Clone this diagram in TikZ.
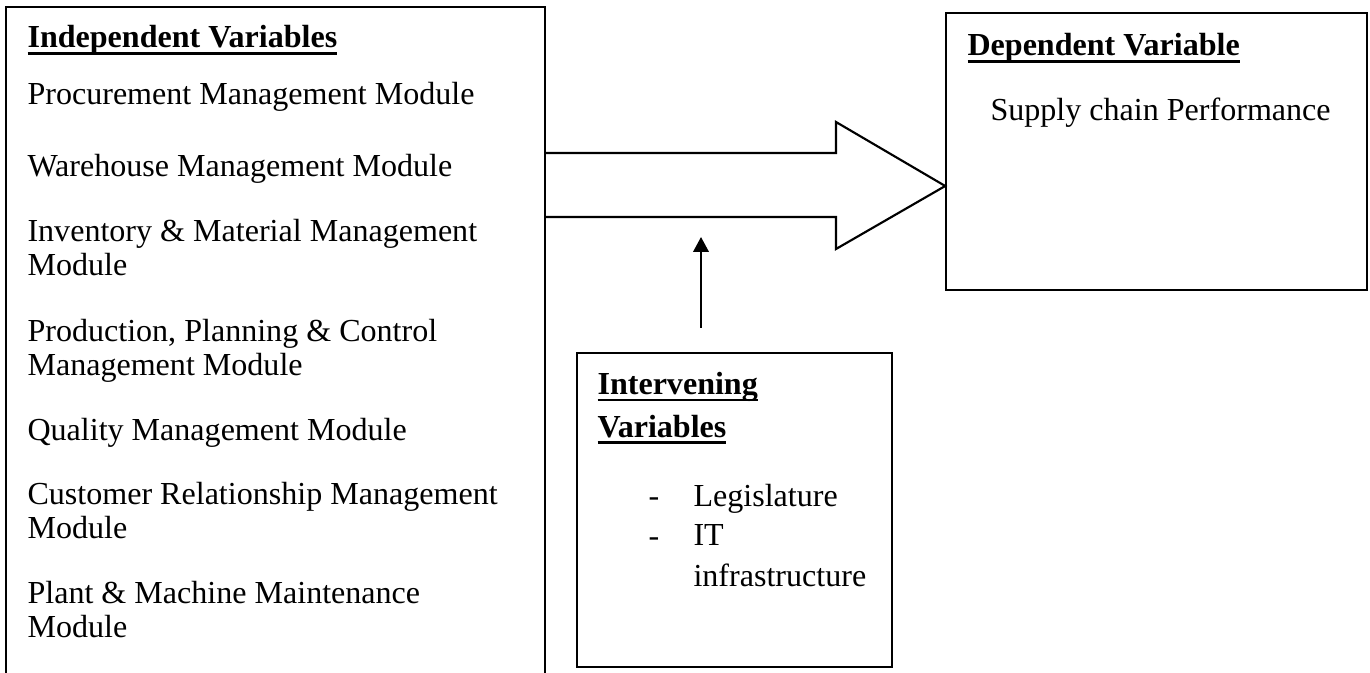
\documentclass[tikz,border=0pt]{standalone}
\usepackage{fontspec}
\setmainfont{Liberation Serif}
\usetikzlibrary{arrows.meta,positioning,calc,fit}
\newcommand{\headrule}[1]{\setbox0=\hbox{#1}\rlap{\rule[-2.6pt]{\wd0}{1pt}}\box0}

\begin{document}
\begin{tikzpicture}[
        x=0.3743pt, y=-0.3743pt,
        font=\fontsize{12}{12.7}\selectfont,
        frame/.style = {draw, line width=0.9pt, inner sep=0pt},
        thinframe/.style = {frame, line width=0.6pt},
        txt/.style   = {anchor=base west, inner sep=0pt, align=left},
        head/.style  = {txt, font=\fontsize{12}{16}\selectfont\bfseries},
        listtxt/.style = {txt, font=\fontsize{12}{15}\selectfont},
        flow/.style  = {line width=0.8pt, line join=miter},
        push/.style  = {-{Triangle[length=5.6pt, width=5.8pt]}, line width=0.8pt}
    ]
        \useasboundingbox (0,0) rectangle (1370,673);
        \clip (0,0) rectangle (1370,673);

        % ---- Independent variables (anchored at last baseline) ----
        \node[frame, fit={(6,7) (545,700)}] (indep) {};
        \node[head] (indeptitle) at (27,48) {\headrule{Independent Variables}};
        \node[txt] (proc)  at (27,105) {Procurement Management Module};
        \node[txt] (ware)  at (27,177) {Warehouse Management Module};
        \node[txt] (inv)   at (27,275) {Inventory \& Material Management\\Module};
        \node[txt] (prod)  at (27,375) {Production, Planning \& Control\\Management Module};
        \node[txt] (qual)  at (27,440) {Quality Management Module};
        \node[txt] (crm)   at (27,538) {Customer Relationship Management\\Module};
        \node[txt] (plant) at (27,637) {Plant \& Machine Maintenance\\Module};

        % ---- Dependent variable ----
        \node[thinframe, fit={(946,13) (1367,290)}] (dep) {};
        \node[head] (deptitle) at (967,56) {\headrule{Dependent Variable}};
        \node[txt] (scp) at (990,121) {Supply chain Performance};

        % ---- Intervening variables ----
        \node[frame, fit={(577,353) (892,667)}] (interv) {};
        \node[head] (intvtitle) at (597,437) {\headrule{Intervening}\\\headrule{Variables}};
        \node[listtxt] (dasha) at (648,506) {-};
        \node[listtxt] (dashb) at (648,546) {-};
        \node[listtxt] (legis) at (693,506) {Legislature};
        \node[listtxt] (infra) at (693,586) {IT\\infrastructure};

        % ---- Arrows ----
        \draw[flow] (indep.east |- 0,153) -- (836,153) -- (836,122)
            -- (dep.west |- 0,186) -- (836,249) -- (836,217) -- (indep.east |- 0,217);
        \coordinate (aim) at (701,237);
        \draw[push] ($(interv.north -| aim)+(0,-24)$) -- (aim);
    \end{tikzpicture}
\end{document}
